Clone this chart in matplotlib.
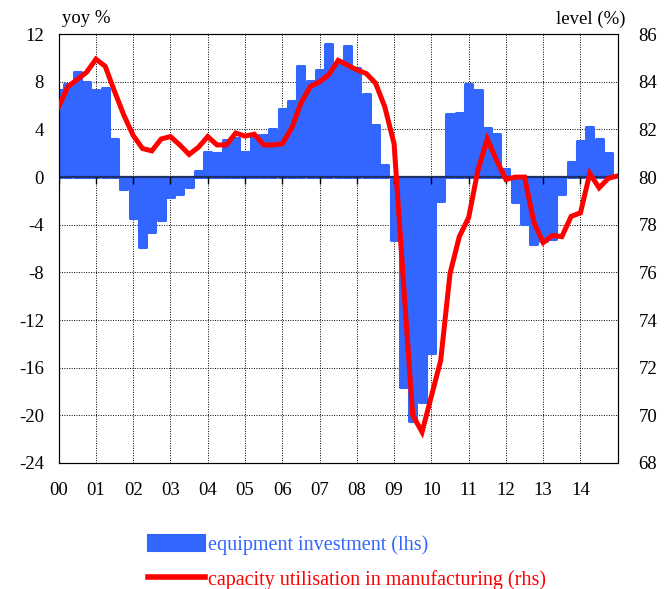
import numpy as np
import matplotlib
matplotlib.use("Agg")
import matplotlib.pyplot as plt
from matplotlib.patches import Patch
from matplotlib.lines import Line2D
from matplotlib.markers import TICKDOWN

plt.rcParams['font.family'] = ['Liberation Serif', 'DejaVu Serif']
plt.rcParams['axes.unicode_minus'] = False

# equipment investment, yoy %, quarterly 2000Q1..2014Q4
invest = [7.3, 7.8, 8.8, 8.0, 7.3, 7.5, 3.2, -1.0,
          -3.4, -5.9, -4.6, -3.6, -1.7, -1.4, -0.8, 0.5,
          2.1, 2.0, 3.1, 3.3, 2.1, 3.5, 3.5, 4.0,
          5.7, 6.4, 9.3, 8.1, 9.0, 11.2, 9.6, 11.0,
          9.2, 7.0, 4.4, 1.0, -5.3, -17.6, -20.5, -18.9,
          -14.8, -2.0, 5.3, 5.4, 7.8, 7.3, 4.1, 3.6,
          0.7, -2.1, -3.9, -5.6, -5.4, -5.2, -1.4, 1.3,
          3.0, 4.2, 3.2, 2.0]

# capacity utilisation in manufacturing, level %, 2000Q1..2015Q1
capu = [82.95, 83.8, 84.1, 84.4, 84.95, 84.65, 83.6, 82.6,
        81.75, 81.2, 81.1, 81.6, 81.7, 81.35, 80.95, 81.25,
        81.7, 81.35, 81.35, 81.85, 81.72, 81.8, 81.35, 81.35,
        81.4, 82.05, 83.1, 83.8, 84.0, 84.3, 84.9, 84.7,
        84.5, 84.35, 83.95, 82.95, 81.4, 75.6, 70.0, 69.3,
        70.8, 72.3, 75.95, 77.5, 78.3, 80.3, 81.6, 80.7,
        79.9, 80.0, 80.0, 78.1, 77.25, 77.55, 77.5, 78.35,
        78.5, 80.15, 79.55, 79.95, 80.05]

year_labels = ['00', '01', '02', '03', '04', '05', '06', '07',
               '08', '09', '10', '11', '12', '13', '14']

blue = '#3366ff'
red = '#ff0000'
navy = '#1c2f66'

x_bar = 2000 + np.arange(len(invest)) / 4
x_line = 2000 + np.arange(len(capu)) / 4
years = 2000 + np.arange(len(year_labels))

fig = plt.figure(figsize=(6.7, 5.89), dpi=100)
ax = fig.add_axes([0.0875, 0.214, 0.8345, 0.728])

ax.bar(x_bar, invest, width=0.19, color=blue, edgecolor=blue,
       linewidth=2.2, joinstyle='round', zorder=2)
ax.axhline(0, color=navy, linewidth=1.6, zorder=3)
ax.plot(years, np.zeros(len(years)), ls='none', marker=TICKDOWN,
        markersize=5, color='black', markeredgewidth=1, zorder=3)

ax.set_xlim(2000, 2015)
ax.set_ylim(-24, 12)
ax.set_yticks(np.arange(-24, 13, 4))
ax.set_xticks(years)
ax.set_xticklabels(year_labels)
ax.grid(True, color='black', linestyle=(0, (1, 1.5)), linewidth=0.7)
ax.set_axisbelow(True)
ax.tick_params(axis='both', length=0, labelsize=13.5)
ax.tick_params(axis='x', pad=14)
ax.tick_params(axis='y', pad=10.5)

ax2 = ax.twinx()
ax2.plot(x_line, capu, color=red, linewidth=3.6, zorder=4,
         solid_joinstyle='miter')
ax2.set_ylim(68, 86)
ax2.set_yticks(np.arange(68, 87, 2))
ax2.tick_params(axis='y', length=0, labelsize=13.5, pad=15)

for a in (ax, ax2):
    for s in a.spines.values():
        s.set_linewidth(0.8)

fig.text(0.093, 0.968, 'yoy %', fontsize=13.5, va='center', ha='left')
fig.text(0.933, 0.968, 'level (%)', fontsize=13.5, va='center', ha='right')

handles = [Patch(facecolor=blue, edgecolor=blue, linewidth=1.5, joinstyle='round'),
           Line2D([], [], color=red, linewidth=4)]
labels = ['equipment investment (lhs)',
          'capacity utilisation in manufacturing (rhs)']
fig.legend(handles, labels, loc='upper left', bbox_to_anchor=(0.221, 0.091),
           frameon=False, fontsize=14.5, handlelength=2.85, handleheight=0.85,
           handletextpad=0.15, labelspacing=0.7, labelcolor=[blue, red],
           borderpad=0, borderaxespad=0)

fig.savefig('out.png', dpi=100)
